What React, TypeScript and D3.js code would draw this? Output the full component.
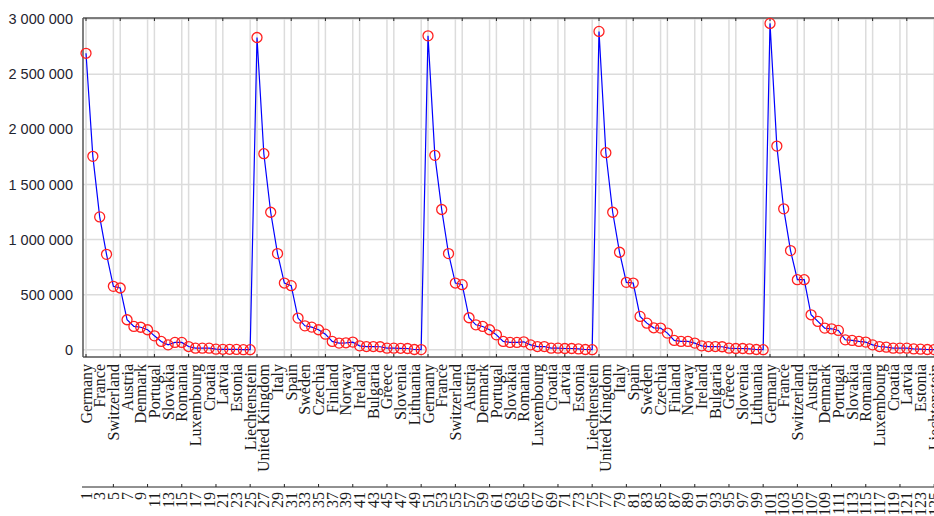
import React from "react";
import * as d3 from "d3";

const countries = [
  "Germany", "United Kingdom", "France", "Italy", "Switzerland", "Spain", "Austria",
  "Sweden", "Denmark", "Czechia", "Portugal", "Finland", "Slovakia", "Norway",
  "Romania", "Ireland", "Luxembourg", "Bulgaria", "Croatia", "Greece", "Latvia",
  "Slovenia", "Estonia", "Lithuania", "Liechtenstein"
];

// five consecutive blocks of 25 countries
const block1 = [2690000, 1755000, 1206000, 866000, 576000, 561000, 273000, 212000, 205000, 182000, 127000, 76000, 45000, 67000, 67000, 30000, 15000, 15000, 15000, 6000, 5000, 5000, 4000, 1000, 1000];
const block2 = [2833000, 1779000, 1248000, 873000, 606000, 582000, 288000, 218000, 206000, 182000, 142000, 76000, 61000, 64000, 70000, 36000, 30000, 30000, 28000, 15000, 15000, 14000, 12000, 3000, 2000];
const block3 = [2848000, 1764000, 1273000, 873000, 606000, 591000, 291000, 227000, 212000, 182000, 136000, 76000, 67000, 67000, 73000, 45000, 30000, 30000, 15000, 15000, 12000, 12000, 8000, 3000, 1000];
const block4 = [2888000, 1788000, 1248000, 885000, 612000, 606000, 303000, 242000, 200000, 197000, 152000, 85000, 76000, 76000, 61000, 36000, 30000, 30000, 28000, 15000, 12000, 12000, 8000, 3000, 1000];
const block5 = [2961000, 1848000, 1279000, 900000, 636000, 636000, 318000, 258000, 197000, 191000, 176000, 91000, 85000, 76000, 70000, 45000, 30000, 24000, 15000, 15000, 15000, 8000, 6000, 3000, 2000];

const yTicks = [0, 500000, 1000000, 1500000, 2000000, 2500000, 3000000];

const values = [...block1, ...block2, ...block3, ...block4, ...block5];
const points = values.map((v, i) => ({ idx: i + 1, v, name: countries[i % 25] }));

const fmt = (n: number) => d3.format(",")(n).replace(/,/g, " ");

export default function App() {
  const W = 934, H = 516;
  const left = 83, top = 18, axisY = 357, numAxisY = 487;
  const x = d3.scaleLinear().domain([0.56, 125.5]).range([left, left + 124.94 * 6.84]);
  const y = d3.scaleLinear().domain([-65000, 3010000]).range([axisY, top]);

  const line = d3.line<{ idx: number; v: number }>()
    .x((d) => x(d.idx))
    .y((d) => y(d.v));

  const major = d3.range(1, 126, 5);
  const minor = d3.range(5, 126, 5);
  const odd = d3.range(1, 126, 2);

  return (
    <svg width={W} height={H} style={{ display: "block", position: "absolute", left: 0, top: 0 }}>
      <rect width={W} height={H} fill="#fff" />
      {/* grid */}
      {yTicks.map((t) => (
        <line key={"h" + t} x1={left} x2={W} y1={y(t)} y2={y(t)} stroke="#dcdcdc" strokeWidth={1.5} />
      ))}
      {[...major, ...minor].map((t, i) => (
        <line key={"v" + i} x1={x(t)} x2={x(t)} y1={top} y2={axisY} stroke="#dcdcdc" strokeWidth={1.5} />
      ))}
      {/* frame */}
      <line x1={left} x2={W} y1={top} y2={top} stroke="#555" strokeWidth={1.5} />
      <line x1={left} x2={W} y1={axisY} y2={axisY} stroke="#555" strokeWidth={1.5} />
      <line x1={left} x2={left} y1={top} y2={axisY} stroke="#555" strokeWidth={1.5} />
      {major.map((t) => (
        <g key={"mt" + t}>
          <line x1={x(t)} x2={x(t)} y1={top} y2={top + 3} stroke="#222" />
          <line x1={x(t)} x2={x(t)} y1={axisY} y2={axisY - 3} stroke="#222" />
        </g>
      ))}
      {yTicks.map((t) => (
        <text key={"yl" + t} x={73} y={y(t)} dy="0.35em" textAnchor="end"
          fontFamily="'Liberation Sans', Arial, sans-serif" fontSize={14.5} fill="#1f2430">
          {fmt(t)}
        </text>
      ))}
      {/* series */}
      <path d={line(points) || ""} fill="none" stroke="#0000ff" strokeWidth={1.2} />
      {points.map((d) => (
        <circle key={"c" + d.idx} cx={x(d.idx)} cy={y(d.v)} r={5} fill="none" stroke="#ff2020" strokeWidth={1.3} />
      ))}
      {/* country labels */}
      {odd.map((i) => (
        <text key={"cl" + i} transform={`translate(${x(i)},${axisY + 7}) rotate(-90)`}
          textAnchor="end" dominantBaseline="central"
          fontFamily="'Liberation Serif', serif" fontSize={16} fill="#1a1a1a">
          {countries[(i - 1) % 25]}
        </text>
      ))}
      {/* index axis */}
      <line x1={left - 1} x2={W} y1={numAxisY} y2={numAxisY} stroke="#222" strokeWidth={1} />
      {minor.map((t) => (
        <line key={"nt" + t} x1={x(t)} x2={x(t)} y1={numAxisY} y2={numAxisY - 3} stroke="#222" />
      ))}
      {odd.map((i) => (
        <text key={"nl" + i} transform={`translate(${x(i)},${numAxisY + 5}) rotate(-90)`}
          textAnchor="end" dominantBaseline="central"
          fontFamily="'Liberation Serif', serif" fontSize={16} fill="#1a1a1a">
          {i}
        </text>
      ))}
    </svg>
  );
}
